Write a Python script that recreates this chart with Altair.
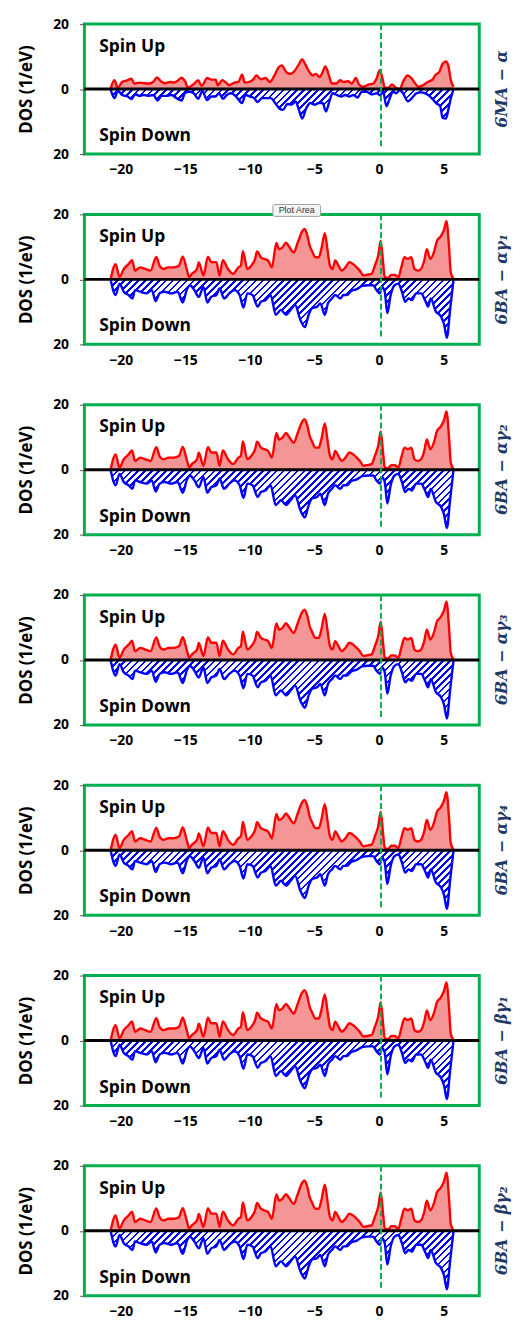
import altair as alt
import pandas as pd

# ---------------- data ----------------
energy_ticks = [-20, -15, -10, -5, 0, 5]
dos_ticks = [-20, -10, 0, 10, 20]
fermi_level = [0.15]

panel_labels = ["6MA − α", "6BA − αγ₁", "6BA − αγ₂", "6BA − αγ₃",
                "6BA − αγ₄", "6BA − βγ₁", "6BA − βγ₂"]

# 6MA - alpha : spin up
ma_up_e = [-20.8, -20.5, -20.23, -19.9, -19.5, -19.18, -18.95, -18.6, -18.2, -17.85,
           -17.5, -17.2, -16.9, -16.6, -16.2, -15.9, -15.55, -15.3, -15.0, -14.8,
           -14.4, -14.0, -13.75, -13.3, -13.0, -12.65, -12.5, -12.15, -11.85, -11.6,
           -11.2, -10.9, -10.6, -10.4, -10.05, -9.74, -9.5, -9.15, -8.8, -8.46,
           -8.1, -7.8, -7.54, -7.2, -6.9, -6.6, -6.26, -5.95, -5.7, -5.4,
           -5.13, -4.9, -4.6, -4.36, -4.16, -3.9, -3.65, -3.34, -3.0, -2.75,
           -2.4, -2.1, -1.8, -1.55, -1.2, -0.83, -0.45, -0.2, 0.06, 0.27,
           0.45, 0.7, 1.0, 1.26, 1.6, 1.85, 2.2, 2.5, 2.8, 3.05,
           3.4, 3.77, 4.16, 4.33, 4.67, 4.92, 5.18, 5.36, 5.56, 5.77]
ma_up = [0, 2.7, 0.4, 2.2, 2.7, 3.2, 1.7, 2.0, 1.8, 1.7,
         2.2, 3.6, 2.4, 1.8, 2.2, 2.0, 2.7, 3.5, 2.2, 0.4,
         1.4, 2.7, 1.0, 3.4, 2.9, 2.9, 1.2, 2.7, 2.0, 1.2,
         2.0, 2.2, 4.4, 2.0, 2.2, 3.0, 4.2, 3.0, 3.4, 2.2,
         4.2, 6.6, 7.3, 5.3, 4.7, 5.3, 7.3, 9.1, 7.5, 5.3,
         4.2, 4.7, 3.7, 5.3, 7.0, 4.4, 1.7, 1.7, 2.7, 2.2,
         2.4, 1.7, 3.4, 1.4, 0.7, 1.4, 1.7, 3.2, 5.8, 3.2,
         0.4, 0.4, 1.4, 0.6, 0.0, 2.2, 4.2, 3.4, 1.7, 0.7,
         1.2, 2.2, 3.0, 4.2, 5.3, 7.8, 8.5, 7.3, 2.7, 0.7]

# 6MA - alpha : spin down (magnitudes)
ma_dn_e = [-20.79, -20.49, -20.23, -19.90, -19.46, -19.18, -18.87, -18.54, -18.23, -17.85,
           -17.47, -17.16, -16.83, -16.44, -16.06, -15.68, -15.29, -15.04, -14.70, -14.35,
           -14.01, -13.68, -13.32, -12.99, -12.66, -12.40, -12.09, -11.79, -11.45, -11.07,
           -10.61, -10.35, -9.99, -9.66, -9.41, -9.07, -8.77, -8.38, -8.05, -7.74,
           -7.44, -7.11, -6.77, -6.46, -6.21, -5.95, -5.64, -5.31, -4.98, -4.67,
           -4.37, -4.11, -3.85, -3.60, -3.27, -2.93, -2.63, -2.32, -1.99, -1.65,
           -1.35, -0.96, -0.58, -0.19, 0.10, 0.31, 0.57, 0.83, 1.08, 1.34,
           1.60, 1.85, 2.24, 2.54, 2.88, 3.26, 3.72, 4.08, 4.41, 4.74,
           4.92, 5.18, 5.36, 5.56, 5.77]
ma_dn = [0, 2.8, 0.6, 1.8, 2.3, 3.1, 1.6, 2.1, 1.8, 2.1,
         1.8, 3.5, 2.1, 2.1, 1.8, 2.8, 3.5, 1.3, 0.8, 1.3,
         3.0, 0.6, 3.4, 2.3, 2.3, 1.3, 3.0, 1.8, 1.3, 2.3,
         4.3, 1.8, 2.3, 2.8, 4.0, 2.8, 2.8, 2.8, 4.3, 5.9,
         6.4, 4.6, 4.8, 3.8, 6.4, 9.1, 5.9, 4.3, 4.8, 4.3,
         4.3, 6.9, 3.8, 1.3, 1.8, 2.3, 1.8, 2.3, 1.8, 2.6,
         0.8, 0.8, 1.6, 1.3, 2.0, 0.6, 5.3, 2.8, 0.8, 1.3,
         0.3, 1.3, 3.8, 2.8, 1.3, 1.0, 1.6, 2.8, 4.3, 5.3,
         8.9, 9.1, 6.4, 2.8, 0]

# 6BA : spin up
ba_up_e = [-20.79, -20.4, -20.1, -19.77, -19.4, -19.13, -18.9, -18.5, -18.1, -17.7,
           -17.25, -17.0, -16.7, -16.3, -15.9, -15.5, -15.2, -14.9, -14.7, -14.5,
           -14.1, -13.96, -13.6, -13.25, -13.0, -12.6, -12.35, -12.1, -11.7, -11.3,
           -10.9, -10.7, -10.55, -10.2, -9.9, -9.6, -9.45, -9.15, -8.9, -8.6,
           -8.3, -7.95, -7.75, -7.5, -7.2, -7.0, -6.6, -6.3, -5.95, -5.78,
           -5.57, -5.37, -5.2, -4.93, -4.67, -4.47, -4.2, -4.0, -3.8, -3.6,
           -3.4, -3.14, -2.9, -2.6, -2.3, -2.0, -1.73, -1.5, -1.2, -0.97,
           -0.58, -0.33, -0.07, 0.13, 0.31, 0.44, 0.7, 0.95, 1.2, 1.5,
           1.72, 1.97, 2.23, 2.5, 2.74, 3.0, 3.25, 3.5, 3.7, 3.97,
           4.28, 4.48, 4.79, 5.04, 5.22, 5.43, 5.55, 5.76]
ba_up = [0, 4.7, 0.7, 3.2, 4.7, 5.9, 2.7, 3.7, 3.2, 2.7,
         6.9, 4.2, 3.2, 3.7, 3.7, 4.2, 7.0, 3.2, 0.7, 1.7,
         3.2, 5.2, 1.2, 7.0, 5.3, 5.3, 1.2, 5.9, 3.2, 1.7,
         3.7, 4.2, 8.7, 3.2, 4.2, 6.3, 8.6, 6.8, 6.3, 5.8,
         3.7, 11.2, 9.3, 9.8, 11.3, 10.3, 8.3, 11.3, 14.8, 15.5,
         13.8, 10.3, 8.8, 6.8, 6.8, 9.3, 14.2, 9.3, 4.2, 3.2,
         5.8, 4.2, 2.7, 3.7, 5.3, 4.7, 3.7, 2.7, 1.2, 1.4,
         1.7, 4.2, 7.3, 11.8, 5.3, 0.7, 0.4, 1.4, 1.4, 0.7,
         3.7, 6.8, 6.3, 6.8, 3.2, 2.7, 3.2, 5.8, 9.3, 6.3,
         8.8, 11.8, 13.3, 15.4, 17.9, 9.3, 2.2, 0.2]

# 6BA : spin down (magnitudes)
ba_dn_e = [-20.79, -20.4, -20.1, -19.77, -19.4, -19.1, -18.9, -18.5, -18.0, -17.6,
           -17.3, -17.0, -16.6, -16.1, -15.6, -15.2, -14.9, -14.65, -14.3, -13.96,
           -13.6, -13.3, -13.0, -12.6, -12.35, -12.0, -11.6, -11.2, -10.8, -10.5,
           -10.2, -9.8, -9.4, -9.15, -8.8, -8.4, -8.0, -7.6, -7.2, -6.85,
           -6.5, -6.1, -5.75, -5.45, -5.2, -4.8, -4.55, -4.2, -3.96, -3.65,
           -3.4, -3.0, -2.76, -2.5, -2.17, -1.73, -1.3, -0.84, -0.46, -0.2,
           0.06, 0.24, 0.44, 0.64, 0.9, 1.2, 1.5, 1.77, 2.03, 2.28,
           2.54, 2.87, 3.25, 3.56, 3.8, 4.0, 4.4, 4.79, 5.04, 5.25,
           5.5, 5.76]
ba_dn = [0, 4.8, 1.3, 3.8, 4.8, 5.9, 3.3, 3.8, 4.3, 3.3,
         6.7, 4.3, 3.8, 4.3, 3.8, 7.1, 3.3, 1.8, 3.3, 5.4,
         2.3, 7.1, 5.4, 4.8, 2.8, 5.9, 4.3, 3.3, 4.8, 8.7,
         4.3, 4.8, 8.4, 6.9, 6.4, 4.8, 10.9, 9.4, 10.9, 9.4,
         7.9, 12.4, 14.7, 10.9, 8.9, 8.4, 7.4, 10.9, 7.4, 5.9,
         4.8, 5.9, 4.8, 4.8, 3.6, 3.0, 2.0, 1.8, 1.8, 3.3,
         4.3, 2.3, 3.8, 10.4, 4.8, 1.8, 1.3, 3.8, 6.9, 5.9,
         6.4, 4.3, 4.3, 6.4, 8.4, 5.9, 9.9, 11.4, 13.9, 18.0,
         9.4, 0.3]

# ---------------- layout / style ----------------
X_DOMAIN = [-22.82, 7.76]
Y_DOMAIN = [-20, 20]
PW, PH = 398, 131
GREEN = "#00B050"
RED = "#FF0000"
BLUE = "#0000FF"
PINK = "#F59696"
NAVY = "#1F3864"
FONT = "Open Sans"


def hatch(dn_e, dn):
    # diagonal "////" hatch built as a hard-stop linear gradient over the area's bbox
    wb = (dn_e[-1] - dn_e[0]) * PW / (X_DOMAIN[1] - X_DOMAIN[0])
    hb = max(dn) * PH / (Y_DOMAIN[1] - Y_DOMAIN[0])
    r = hb / wb
    s = (1 + r) / (1 + r * r)
    n = max(4, int(round((wb + hb) / 7.0)))
    frac = 0.38
    stops = []
    for i in range(n):
        a = i / n
        b = (i + frac) / n
        c = (i + 1) / n
        stops += [alt.GradientStop(offset=a, color=BLUE),
                  alt.GradientStop(offset=b, color=BLUE),
                  alt.GradientStop(offset=b, color="white"),
                  alt.GradientStop(offset=c, color="white")]
    return alt.LinearGradient(gradient="linear", stops=stops,
                              x1=0, y1=0, x2=s, y2=s * r)


def text_layer(txt, px, py, **kw):
    return alt.Chart(pd.DataFrame({"t": [txt]})).mark_text(**kw).encode(
        text="t:N", x=alt.value(px), y=alt.value(py))


def panel(up_e, up, dn_e, dn, label, tooltip_box=False):
    up_df = pd.DataFrame({"E": up_e, "DOS": up})
    dn_df = pd.DataFrame({"E": dn_e, "DOS": [-v for v in dn]})

    x = alt.X("E:Q", title=None,
              scale=alt.Scale(domain=X_DOMAIN, nice=False, zero=False),
              axis=alt.Axis(values=energy_ticks, ticks=False, domain=False, grid=False,
                            labelPadding=9, labelFont=FONT, labelFontSize=14,
                            labelFontWeight="bold", labelColor="black"))
    y = alt.Y("DOS:Q", title="DOS (1/eV)",
              scale=alt.Scale(domain=Y_DOMAIN, nice=False),
              axis=alt.Axis(values=dos_ticks, labelExpr="abs(datum.value)",
                            domain=False, grid=False, tickSize=5, tickColor="#595959",
                            tickWidth=1, labelPadding=11, labelFont=FONT,
                            labelFontSize=14, labelFontWeight="bold", labelColor="black",
                            titleFont=FONT, titleFontSize=17, titleFontWeight="bold",
                            titleColor="black", titlePadding=17))

    up_area = alt.Chart(up_df).mark_area(color=PINK, interpolate="monotone").encode(x=x, y=y)
    up_line = alt.Chart(up_df).mark_line(color=RED, strokeWidth=2.4,
                                         interpolate="monotone").encode(x="E:Q", y="DOS:Q")
    dn_area = alt.Chart(dn_df).mark_area(color=hatch(dn_e, dn),
                                         interpolate="monotone").encode(x="E:Q", y="DOS:Q")
    dn_line = alt.Chart(dn_df).mark_line(color=BLUE, strokeWidth=2.4,
                                         interpolate="monotone").encode(x="E:Q", y="DOS:Q")
    zero = alt.Chart(pd.DataFrame({"DOS": [0]})).mark_rule(
        color="black", strokeWidth=3).encode(y="DOS:Q")
    fermi = alt.Chart(pd.DataFrame({"E": fermi_level})).mark_rule(
        color=GREEN, strokeWidth=2, strokeDash=[6, 3]).encode(
        x="E:Q", y=alt.value(0), y2=alt.value(PH - 7))

    spin_up = text_layer("Spin Up", 15, 23, align="left", baseline="middle",
                         font=FONT, fontSize=17.5, fontWeight="bold", color="black")
    spin_dn = text_layer("Spin Down", 15, PH - 18, align="left", baseline="middle",
                         font=FONT, fontSize=17.5, fontWeight="bold", color="black")
    side = text_layer(label, PW + 23, PH / 2, align="center", baseline="middle",
                      angle=270, font="DejaVu Serif", fontSize=16, fontStyle="italic",
                      fontWeight="bold", color=NAVY)

    layers = [up_area, dn_area, up_line, dn_line, zero, fermi, spin_up, spin_dn, side]
    if tooltip_box:
        box = alt.Chart(pd.DataFrame({"t": ["Plot Area"]})).mark_rect(
            fill="#F4F4F4", stroke="#A0A0A0", strokeWidth=1, cornerRadius=2).encode(
            x=alt.value(190), x2=alt.value(238), y=alt.value(-10), y2=alt.value(2))
        box_t = text_layer("Plot Area", 214, -4, align="center", baseline="middle",
                           font="Liberation Sans", fontSize=9, color="#333333")
        layers += [box, box_t]
    return alt.layer(*layers).properties(width=PW, height=PH)


panels = [panel(ma_up_e, ma_up, ma_dn_e, ma_dn, panel_labels[0])]
for i, lab in enumerate(panel_labels[1:]):
    panels.append(panel(ba_up_e, ba_up, ba_dn_e, ba_dn, lab, tooltip_box=(i == 0)))

chart = alt.vconcat(*panels, spacing=60.8, bounds="flush").properties(
    padding={"left": 8, "top": 2, "right": 0, "bottom": 0}
).configure(background="white").configure_view(stroke=GREEN, strokeWidth=3)

chart.save("out.html", embed_options={"renderer": "svg", "actions": False})
